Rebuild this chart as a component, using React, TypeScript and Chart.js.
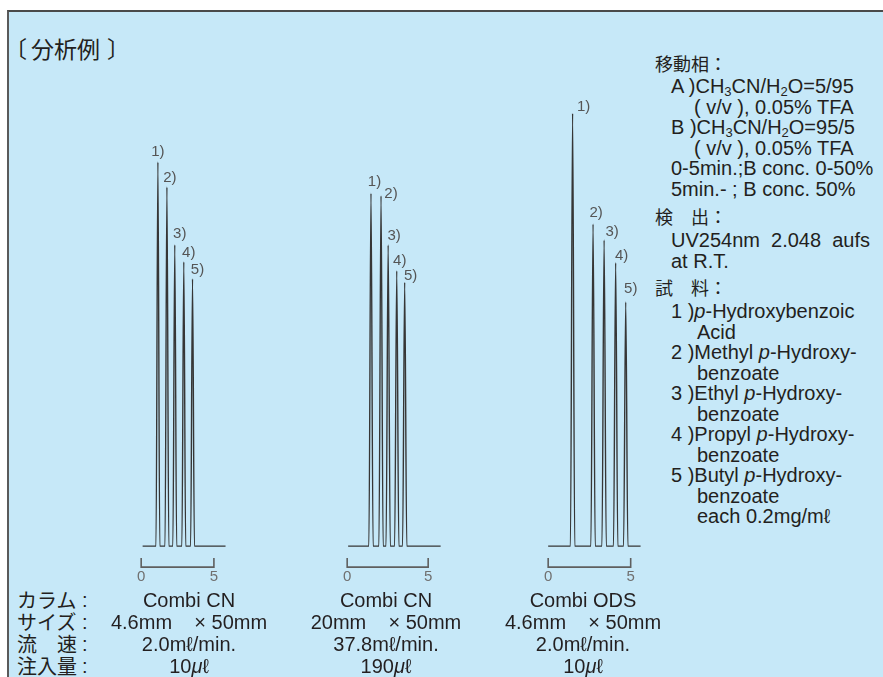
import React, { useEffect, useRef } from 'react';
import { Chart, registerables } from 'chart.js';

Chart.register(...registerables);

// ---------------- data ----------------
const peakLabels = ['1)', '2)', '3)', '4)', '5)'];
const timeTicks = [0, 5]; // min

// Combi CN 4.6mm x 50mm
const cn46Times = [1.15, 1.77, 2.31, 2.93, 3.53];
const cn46Heights = [86.1, 80.5, 67.5, 63.7, 59.9];
const cn46Run = [0.1, 5.8];

// Combi CN 20mm x 50mm
const cn20Times = [1.47, 2.09, 2.53, 3.06, 3.55];
const cn20Heights = [79.1, 78.5, 67.5, 61.7, 59.1];
const cn20Run = [0.06, 5.77];

// Combi ODS 4.6mm x 50mm
const odsTimes = [1.48, 2.72, 3.39, 4.09, 4.7];
const odsHeights = [97.0, 72.2, 68.6, 63.5, 54.7];
const odsRun = [0, 5.6];

const rowLabels = ['カラム', 'サイズ', '流　速', '注入量'];
const columnNames = ['Combi CN', 'Combi CN', 'Combi ODS'];
const columnSizes = ['4.6mm    × 50mm', '20mm    × 50mm', '4.6mm    × 50mm'];
const columnFlows = ['2.0mℓ/min.', '37.8mℓ/min.', '2.0mℓ/min.'];
const columnVolumes = ['10', '190', '10'];

// ---------------- styles / geometry ----------------
const PEAK_HALF = 0.13;
const LAT = '"Liberation Sans", Arial, Helvetica, sans-serif';
const JP = '"Noto Sans CJK JP", "Noto Sans CJK SC", sans-serif';
const INK = '#231f20';

const geoms = [
  { left: 124, width: 112, zeroPx: 134.3, pxPerMin: 15.6 },
  { left: 330, width: 122, zeroPx: 340.7, pxPerMin: 17.2 },
  { left: 531, width: 122, zeroPx: 541.7, pxPerMin: 17.52 },
];
const labelOffsets = [
  [[0, -10], [3, -9], [5, -11], [5, -9], [5, -9]],
  [[3.5, -11], [10, -2], [6, -9], [3, -10], [6, -7]],
  [[11, -7], [3, -11], [8, -8], [6, -7], [5, -13]],
];
const colCenters = [189, 386, 583];

const peakMarks = {
  id: 'peakMarks',
  afterDatasetsDraw(chart: any, _args: any, opts: any) {
    const { ctx } = chart;
    const xs = chart.scales.x;
    const ys = chart.scales.y;
    const base = ys.getPixelForValue(0);
    ctx.save();
    // time bracket
    const x0 = xs.getPixelForValue(timeTicks[0]);
    const x1 = xs.getPixelForValue(timeTicks[1]);
    const by = base + 21;
    ctx.strokeStyle = '#5f5f5f';
    ctx.lineWidth = 1.6;
    ctx.beginPath();
    ctx.moveTo(x0, by - 9);
    ctx.lineTo(x0, by);
    ctx.lineTo(x1, by);
    ctx.lineTo(x1, by - 9);
    ctx.stroke();
    // peak labels
    ctx.fillStyle = '#555555';
    ctx.font = `15px ${LAT}`;
    ctx.textAlign = 'center';
    ctx.textBaseline = 'middle';
    opts.times.forEach((t: number, i: number) => {
      const px = xs.getPixelForValue(t) + opts.offsets[i][0];
      const py = ys.getPixelForValue(opts.heights[i]) + opts.offsets[i][1];
      ctx.fillText(peakLabels[i], px, py);
    });
    ctx.restore();
  },
};

function Chromatogram({ times, heights, run, geom, offsets }: any) {
  const ref = useRef<HTMLCanvasElement>(null);
  useEffect(() => {
    const xmin = (geom.left - geom.zeroPx) / geom.pxPerMin;
    const xmax = xmin + geom.width / geom.pxPerMin;
    const pts: { x: number; y: number }[] = [{ x: run[0], y: 0 }];
    times.forEach((t: number, i: number) => {
      pts.push({ x: t - PEAK_HALF, y: 0 }, { x: t, y: heights[i] }, { x: t + PEAK_HALF, y: 0 });
    });
    pts.push({ x: run[1], y: 0 });
    const chart = new Chart(ref.current as HTMLCanvasElement, {
      type: 'line',
      data: {
        datasets: [
          {
            data: pts,
            borderColor: '#363636',
            borderWidth: 1.4,
            pointRadius: 0,
            cubicInterpolationMode: 'monotone',
            fill: false,
          },
        ],
      },
      options: {
        animation: false,
        responsive: false,
        devicePixelRatio: 1,
        events: [],
        layout: { padding: { top: 10, left: 0, right: 0, bottom: 0 } },
        plugins: {
          legend: { display: false },
          tooltip: { enabled: false },
          peakMarks: { times, heights, offsets },
        } as any,
        scales: {
          x: {
            type: 'linear',
            min: xmin,
            max: xmax,
            position: 'bottom',
            grid: { display: false, drawTicks: false },
            border: { display: false },
            afterBuildTicks: (s: any) => {
              s.ticks = timeTicks.map((v) => ({ value: v }));
            },
            afterFit: (s: any) => {
              s.height = 45;
            },
            ticks: {
              autoSkip: false,
              maxRotation: 0,
              padding: 13,
              color: '#707070',
              font: { family: LAT, size: 15 },
            },
          },
          y: { display: false, min: -2, max: 100 },
        },
      } as any,
      plugins: [peakMarks],
    });
    return () => chart.destroy();
  }, []);
  return (
    <canvas
      ref={ref}
      width={geom.width}
      height={510}
      style={{ position: 'absolute', left: geom.left, top: 90, width: geom.width, height: 510 }}
    />
  );
}

function T({ x, y, size = 20, font = LAT, children, center = false, style = {} }: any) {
  return (
    <div
      style={{
        position: 'absolute',
        left: center ? x - 200 : x,
        width: center ? 400 : undefined,
        textAlign: center ? 'center' : 'left',
        top: y - size / 2,
        fontSize: size,
        lineHeight: `${size}px`,
        fontFamily: font,
        color: INK,
        whiteSpace: 'pre',
        ...style,
      }}
    >
      {children}
    </div>
  );
}

const sub = (s: string) => <sub style={{ fontSize: '0.65em', verticalAlign: '-0.25em', lineHeight: 0 }}>{s}</sub>;
const it = (s: string) => <i>{s}</i>;

export default function App() {
  const rowY = [600, 622, 644, 666];
  const HX = 655; // section headers
  const LX = 671; // list lines
  const CX = 697; // continuation lines
  return (
    <div
      style={{
        position: 'fixed',
        left: 0,
        top: 0,
        width: 883,
        height: 677,
        overflow: 'hidden',
        background: '#ffffff',
      }}
    >
      <div
        style={{
          position: 'absolute',
          left: 7,
          top: 10,
          width: 900,
          height: 700,
          background: '#c6e8f8',
          borderTop: '2px solid #4a4a4a',
          borderLeft: '2px solid #5a5a5a',
        }}
      />
      {/* title */}
      <T x={4} y={48} size={23} font={JP}>〔</T>
      <T x={31} y={48} size={23} font={JP}>分析例</T>
      <T x={107} y={48} size={23} font={JP}>〕</T>

      <Chromatogram times={cn46Times} heights={cn46Heights} run={cn46Run} geom={geoms[0]} offsets={labelOffsets[0]} />
      <Chromatogram times={cn20Times} heights={cn20Heights} run={cn20Run} geom={geoms[1]} offsets={labelOffsets[1]} />
      <Chromatogram times={odsTimes} heights={odsHeights} run={odsRun} geom={geoms[2]} offsets={labelOffsets[2]} />

      {/* right column */}
      <T x={HX} y={63} size={18} font={JP}>移動相：</T>
      <T x={LX} y={86}>A )CH{sub('3')}CN/H{sub('2')}O=5/95</T>
      <T x={CX - 3} y={106.5}>( v/v ), 0.05% TFA</T>
      <T x={LX} y={127}>B )CH{sub('3')}CN/H{sub('2')}O=95/5</T>
      <T x={CX - 3} y={147.5}>( v/v ), 0.05% TFA</T>
      <T x={LX} y={168}>0-5min.;B conc. 0-50%</T>
      <T x={LX} y={188.5}>5min.- ; B conc. 50%</T>
      <T x={HX} y={216} size={18} font={JP}>検　出：</T>
      <T x={LX} y={240}>UV254nm  2.048  aufs</T>
      <T x={LX} y={260.5}>at R.T.</T>
      <T x={HX} y={287} size={18} font={JP}>試　料：</T>
      <T x={LX} y={311}>1 ){it('p')}-Hydroxybenzoic</T>
      <T x={CX} y={331.5}>Acid</T>
      <T x={LX} y={352}>2 )Methyl {it('p')}-Hydroxy-</T>
      <T x={CX} y={372.5}>benzoate</T>
      <T x={LX} y={393}>3 )Ethyl {it('p')}-Hydroxy-</T>
      <T x={CX} y={413.5}>benzoate</T>
      <T x={LX} y={434}>4 )Propyl {it('p')}-Hydroxy-</T>
      <T x={CX} y={454.5}>benzoate</T>
      <T x={LX} y={475}>5 )Butyl {it('p')}-Hydroxy-</T>
      <T x={CX} y={495.5}>benzoate</T>
      <T x={CX} y={516}>each 0.2mg/mℓ</T>

      {/* bottom table */}
      {rowLabels.map((l, i) => (
        <React.Fragment key={l}>
          <T x={17} y={rowY[i]} font={JP}>{l}</T>
          <T x={82} y={rowY[i]}>:</T>
        </React.Fragment>
      ))}
      {colCenters.map((cx, c) => (
        <React.Fragment key={c}>
          <T x={cx} y={rowY[0]} center>{columnNames[c]}</T>
          <T x={cx} y={rowY[1]} center>{columnSizes[c]}</T>
          <T x={cx} y={rowY[2]} center>{columnFlows[c]}</T>
          <T x={cx} y={rowY[3]} center>
            {columnVolumes[c]}
            {it('μ')}ℓ
          </T>
        </React.Fragment>
      ))}
    </div>
  );
}
